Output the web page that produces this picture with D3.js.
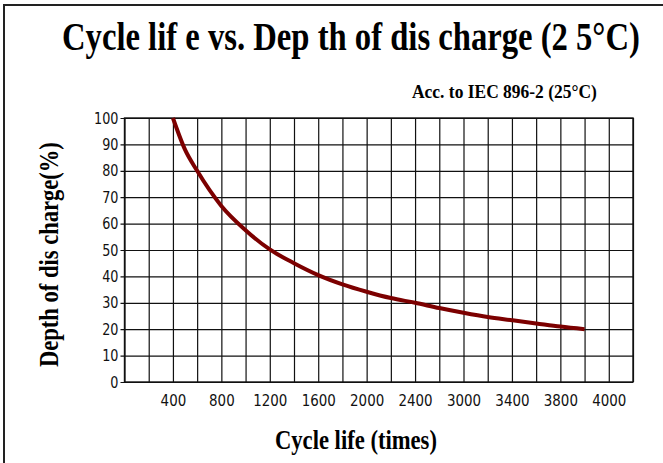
<!DOCTYPE html>
<html>
<head>
<meta charset="utf-8">
<script src="https://cdn.jsdelivr.net/npm/d3@7"></script>
<style>
  html, body { margin: 0; padding: 0; background: #fff; }
  svg { display: block; }
</style>
</head>
<body>
<svg id="chart" width="663" height="463"></svg>
<script>
// ---- data ----
const cycles = [400, 500, 600, 800, 1000, 1200, 1400, 1600, 1800, 2000, 2200, 2400, 2600, 2800, 3000, 3200, 3400, 3600, 3800];
const depth  = [100, 88, 80, 66.7, 57.5, 50.2, 45, 40.5, 37, 34.2, 31.8, 30, 28, 26.2, 24.6, 23.4, 22.2, 21, 20];
const xTickValues = [400, 800, 1200, 1600, 2000, 2400, 2800, 3200, 3600, 4000];
const xTickLabels = ["400", "800", "1200", "1600", "2000", "2400", "3000", "3400", "3800", "4000"];
const yTickValues = [0, 10, 20, 30, 40, 50, 60, 70, 80, 90, 100];
const titleText = "Cycle lif e vs. Dep th of dis charge (2 5°C)";
const subtitleText = "Acc. to IEC 896-2  (25°C)";
const xTitle = "Cycle life (times)";
const yTitle = "Depth of dis charge(%)";

// ---- layout ----
const svg = d3.select("#chart");
const L = 124.5, R = 633, T = 118, B = 382;
const x = d3.scaleLinear().domain([0, 4200]).range([L, R]);
const y = d3.scaleLinear().domain([0, 100]).range([B, T]);
const tickFont = "'DejaVu Sans', sans-serif";
const serif = "'Liberation Serif', 'Times New Roman', serif";

// horizontally squeeze a text (anchored start at x0,y0) to a target width
function squeeze(sel, x0, y0, width, rotate) {
  const w = sel.node().getComputedTextLength();
  const s = width / w;
  sel.attr("x", 0).attr("y", 0)
     .attr("transform", `translate(${x0},${y0})${rotate ? " rotate(-90)" : ""} scale(${s},1)`);
}

// frame (top + left)
svg.append("path")
  .attr("d", "M4,463 V5 H663")
  .attr("fill", "none").attr("stroke", "#222").attr("stroke-width", 2);

// vertical grid
const gx = svg.append("g").attr("transform", `translate(0,${B})`)
  .call(d3.axisBottom(x).tickValues(d3.range(0, 4201, 200)).tickSize(-(B - T)).tickFormat(""));
gx.select(".domain").remove();
gx.selectAll("line").attr("stroke", "#111").attr("stroke-width", 1.2);

// horizontal grid + y labels
const gy = svg.append("g").attr("transform", `translate(${L},0)`)
  .call(d3.axisLeft(y).tickValues(yTickValues).tickSize(-(R - L)).tickPadding(6));
gy.select(".domain").remove();
gy.selectAll("line").attr("stroke", "#111").attr("stroke-width", 1.2).attr("x1", -4);
gy.attr("font-family", tickFont).attr("font-size", 16);
gy.selectAll("text").attr("fill", "#111")
  .attr("x", null).attr("text-anchor", "end")
  .attr("transform", "translate(-6,0) scale(0.8,1)");

// x labels
const gxl = svg.append("g").attr("transform", `translate(0,${B})`)
  .call(d3.axisBottom(x).tickValues(xTickValues).tickSize(0).tickPadding(13)
    .tickFormat((d, i) => xTickLabels[i]));
gxl.select(".domain").remove();
gxl.attr("font-family", tickFont).attr("font-size", 16);
gxl.selectAll("text").attr("fill", "#111").attr("transform", "scale(0.84,1)");

// plot border
svg.append("rect").attr("x", L).attr("y", T).attr("width", R - L).attr("height", B - T)
  .attr("fill", "none").attr("stroke", "#111").attr("stroke-width", 1.4);

// curve
const pts = cycles.map((c, i) => [c, depth[i]]);
svg.append("path").datum(pts)
  .attr("d", d3.line().x(d => x(d[0])).y(d => y(d[1])).curve(d3.curveMonotoneX))
  .attr("fill", "none").attr("stroke", "#7c0000").attr("stroke-width", 4)
  .attr("stroke-linecap", "butt");

// titles
const t1 = svg.append("text").attr("font-family", serif).attr("font-weight", "bold")
  .attr("font-size", 40).attr("fill", "#000").text(titleText);
squeeze(t1, 62, 50, 578);

const t2 = svg.append("text").attr("font-family", serif).attr("font-weight", "bold")
  .attr("font-size", 18).attr("fill", "#000").text(subtitleText);
squeeze(t2, 412, 98, 185);

const t3 = svg.append("text").attr("font-family", serif).attr("font-weight", "bold")
  .attr("font-size", 27).attr("fill", "#000").text(xTitle);
squeeze(t3, 275, 449, 162);

const t4 = svg.append("text").attr("font-family", serif).attr("font-weight", "bold")
  .attr("font-size", 28).attr("fill", "#000").text(yTitle);
squeeze(t4, 58, 367, 225, true);
</script>
</body>
</html>
